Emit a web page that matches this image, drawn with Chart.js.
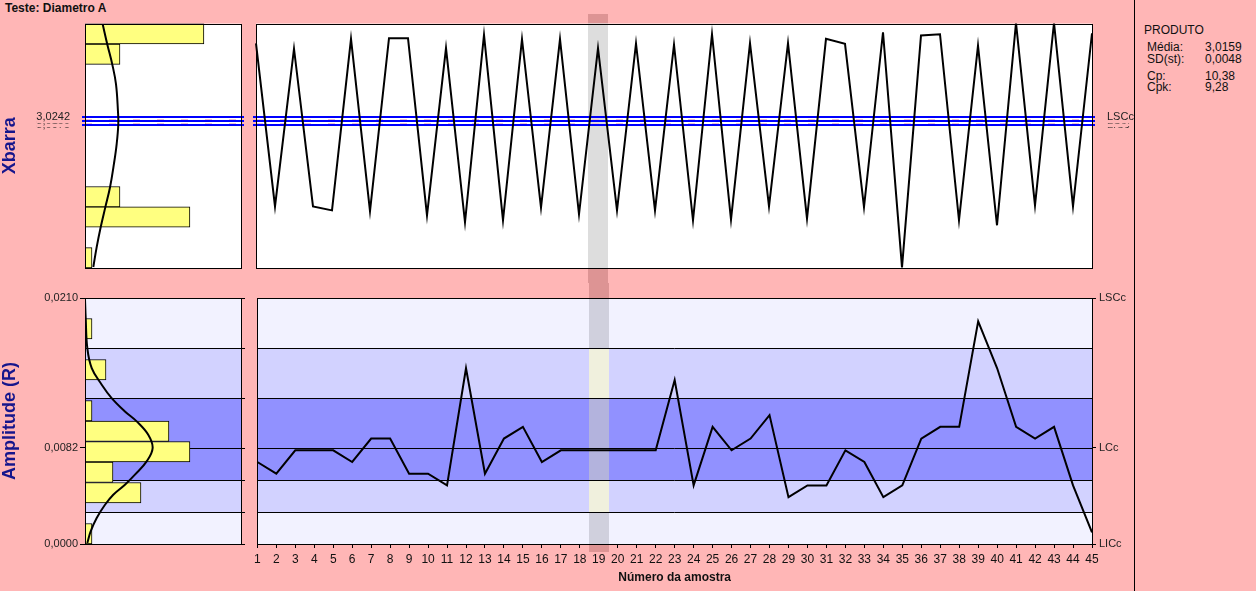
<!DOCTYPE html>
<html lang="pt">
<head>
<meta charset="utf-8">
<title>Teste: Diametro A</title>
<script src="https://cdn.jsdelivr.net/npm/chart.js@4.4.1/dist/chart.umd.min.js"></script>
<style>
  html, body { margin: 0; padding: 0; }
  body { width: 1256px; height: 591px; background: #ffb6b6; position: relative; overflow: hidden;
         font-family: "Liberation Sans", Arial, sans-serif; color: #111; }
  canvas { position: absolute; }
  .lbl { position: absolute; font-size: 12px; line-height: 14px; white-space: nowrap; }
  #divider { position: absolute; left: 1134px; top: 0; width: 1px; height: 591px; background: #000; }
</style>
</head>
<body>
<div class="lbl" style="left:5px;top:1px;font-weight:bold">Teste: Diametro A</div>
<div id="divider"></div>
<div id="stats"></div>
<canvas id="xbarHist" width="250" height="273" style="left:0;top:10px"></canvas>
<canvas id="xbarChart" width="884" height="273" style="left:250px;top:10px"></canvas>
<canvas id="rangeHist" width="250" height="308" style="left:0;top:283px"></canvas>
<canvas id="rangeChart" width="884" height="308" style="left:250px;top:283px"></canvas>
<script>
var sampleLabels = ["1", "2", "3", "4", "5", "6", "7", "8", "9", "10", "11", "12", "13", "14", "15",
    "16", "17", "18", "19", "20", "21", "22", "23", "24", "25", "26", "27", "28", "29", "30",
    "31", "32", "33", "34", "35", "36", "37", "38", "39", "40", "41", "42", "43", "44", "45"];

// sample means (Xbarra)
var xbarValues = [3.1802, 2.8334, 3.1690, 2.8336, 2.8251, 3.1902, 2.8236, 3.1914, 3.1914, 2.8145,
    3.1703, 2.7997, 3.1986, 2.8040, 3.1893, 2.8308, 3.1893, 2.8167, 3.1703, 2.8251,
    3.1802, 2.8251, 3.1775, 2.8040, 3.1999, 2.8055, 3.1809, 2.8336, 3.1809, 2.8076,
    3.1902, 3.1796, 2.8321, 3.2041, 2.7040, 3.1971, 3.1999, 2.8040, 3.1754, 2.7934,
    3.2240, 2.8357, 3.2240, 2.8336, 3.2020];

// sample ranges (Amplitude R)
var rangeValues = [0.0070, 0.0060, 0.0080, 0.0080, 0.0080, 0.0070, 0.0090, 0.0090, 0.0060, 0.0060,
    0.0050, 0.0150, 0.0060, 0.0090, 0.0100, 0.0070, 0.0080, 0.0080, 0.0080, 0.0080,
    0.0080, 0.0080, 0.0140, 0.0050, 0.0100, 0.0080, 0.0090, 0.0110, 0.0040, 0.0050,
    0.0050, 0.0080, 0.0070, 0.0040, 0.0050, 0.0090, 0.0100, 0.0100, 0.0190, 0.0150,
    0.0100, 0.0090, 0.0100, 0.0050, 0.0010];

// control limits, lowest first
var limitNames = ["LICc", "LCc", "LSCc"];
var xbarLimits = [3.0075, 3.0159, 3.0242];
var rangeLimits = [0.0000, 0.0082, 0.0210];

var xbarAxisRange = [2.7025, 3.2225];
var rangeAxisRange = [0.0000, 0.0210];

// histograms, 12 bins, lowest bin first
var histCountMax = 22.3;
var xbarHistCounts = [1, 0, 15, 5, 0, 0, 0, 0, 0, 0, 5, 17];
var rangeHistCounts = [1, 0, 8, 4, 15, 12, 1, 0, 3, 0, 1, 0];

// fitted curves
var xbarCurveValues = [3.2210, 3.1781, 3.1358, 3.0936, 3.0365, 3.0090, 2.9667, 2.9245, 2.8737, 2.8315, 2.7892, 2.7469, 2.7046];
var xbarCurveHeights = [2.53, 3.19, 3.90, 4.43, 4.71, 4.76, 4.53, 4.14, 3.57, 2.90, 2.24, 1.67, 1.19];
var rangeCurveValues = [0.02087, 0.01929, 0.01673, 0.01502, 0.01360, 0.01246, 0.01132, 0.01047, 0.00933,
    0.00820, 0.00705, 0.00592, 0.00506, 0.00421, 0.00335, 0.00222, 0.00108, 0.00009];
var rangeCurveHeights = [0.00, 0.10, 0.33, 0.96, 2.39, 3.81, 5.71, 7.39, 9.04,
    9.67, 8.81, 7.14, 5.71, 4.04, 2.86, 1.67, 0.81, 0.33];

var selectedSample = "19";

var statTitle = "PRODUTO";
var statNames = ["Média:", "SD(st):", "Cp:", "Cpk:"];
var statValues = ["3,0159", "0,0048", "10,38", "9,28"];

var PINK = "#ffb6b6";
var ZONE_COLORS = ["#f2f2ff", "#d2d2ff", "#9191ff"];
var ZONE_SHADES = [0, 1, 2, 2, 1, 0];
var NAVY = "#16168c";

Chart.defaults.font.family = '"Liberation Sans", Arial, sans-serif';
Chart.defaults.color = "#111";

// the selected sample column is painted by xor-ing with #222222
function xorColor(hex) {
    var n = parseInt(hex.slice(1), 16) ^ 0x222222;
    return "#" + ("000000" + n.toString(16)).slice(-6);
}

function ptNumber(v) {
    return v.toFixed(4).replace(".", ",");
}

// zone edges: LIC, -2s, -1s, LC, +1s, +2s, LSC
function zoneEdges(limits) {
    var dn = (limits[1] - limits[0]) / 3;
    var up = (limits[2] - limits[1]) / 3;
    return [limits[0], limits[1] - 2 * dn, limits[1] - dn, limits[1], limits[1] + up, limits[1] + 2 * up, limits[2]];
}

var spcDecor = {
    id: "spcDecor",
    beforeDatasetsDraw: function (chart, args, opts) {
        var ctx = chart.ctx;
        var area = chart.chartArea;
        var y = chart.scales.y;
        var col = null;
        if (opts.highlight) {
            var cx = chart.scales.x.getPixelForValue(chart.data.labels.indexOf(opts.highlight));
            col = { left: Math.round(cx) - 10, width: 20 };
        }
        ctx.save();
        if (col) {
            ctx.fillStyle = xorColor(PINK);
            ctx.fillRect(col.left, opts.highlightTop, col.width, opts.highlightBottom - opts.highlightTop);
        }
        if (opts.zones) {
            var edges = zoneEdges(opts.zones);
            for (var i = 0; i < 6; i++) {
                var top = Math.round(y.getPixelForValue(edges[i + 1]));
                var bottom = Math.round(y.getPixelForValue(edges[i]));
                ctx.fillStyle = ZONE_COLORS[ZONE_SHADES[i]];
                ctx.fillRect(area.left, top, area.width, bottom - top);
                if (col) {
                    ctx.fillStyle = xorColor(ZONE_COLORS[ZONE_SHADES[i]]);
                    ctx.fillRect(col.left, top, col.width, bottom - top);
                }
            }
            ctx.strokeStyle = "#000";
            ctx.lineWidth = 1;
            edges.forEach(function (v) {
                var py = Math.round(y.getPixelForValue(v)) + 0.5;
                ctx.beginPath();
                ctx.moveTo(area.left, py);
                ctx.lineTo(area.right + (opts.lineOverhang || 0), py);
                ctx.stroke();
            });
        } else {
            ctx.fillStyle = "#fff";
            ctx.fillRect(area.left, area.top, area.width, area.height);
            if (col) {
                ctx.fillStyle = xorColor("#ffffff");
                ctx.fillRect(col.left, area.top, col.width, area.height);
            }
        }
        if (opts.limits) {
            var rows = opts.limits.map(function (v) { return Math.round(y.getPixelForValue(v)); });
            ctx.fillStyle = "#0000ff";
            rows.forEach(function (py) {
                ctx.fillRect(area.left - 3, py - 1, area.width + 6, 2);
            });
            // light dashes between the limit lines
            ctx.strokeStyle = "#f0c4cc";
            ctx.lineWidth = 1;
            ctx.setLineDash([7, 17]);
            for (var k = 0; k < rows.length - 1; k++) {
                var my = Math.round((rows[k] + rows[k + 1]) / 2) + 0.5;
                ctx.beginPath();
                ctx.moveTo(area.left, my);
                ctx.lineTo(area.right, my);
                ctx.stroke();
            }
        }
        ctx.restore();
    },
    afterDatasetsDraw: function (chart) {
        var ctx = chart.ctx;
        var area = chart.chartArea;
        ctx.save();
        ctx.strokeStyle = "#000";
        ctx.lineWidth = 1;
        ctx.strokeRect(Math.round(area.left) + 0.5, Math.round(area.top) + 0.5,
            Math.round(area.width), Math.round(area.height));
        ctx.restore();
    }
};

function limitTicks(limits) {
    return function (axis) {
        axis.ticks = limits.map(function (v) { return { value: v }; });
    };
}

function CreateHistogram(id, counts, axisRange, curveValues, curveHeights, limits, title, zones) {
    var chart = document.getElementById(id).getContext("2d");
    var binWidth = (axisRange[1] - axisRange[0]) / counts.length;
    var bars = counts.map(function (c, i) { return { x: c, y: axisRange[0] + (i + 0.5) * binWidth }; });
    var curve = curveValues.map(function (v, i) { return { x: curveHeights[i], y: v }; });

    var myHistogram = new Chart(chart, {
        type: 'bar',
        data: {
            datasets: [{
                type: 'line',
                label: 'Normal',
                data: curve,
                indexAxis: 'y',
                borderColor: '#000',
                borderWidth: 2,
                pointRadius: 0,
                tension: 0.4,
                order: 0
            }, {
                type: 'bar',
                label: 'Frequência',
                data: bars,
                backgroundColor: '#ffff80',
                borderColor: '#000',
                borderWidth: 1,
                borderSkipped: false,
                barThickness: 'flex',
                barPercentage: 1,
                categoryPercentage: 1,
                order: 1
            }]
        },
        options: {
            indexAxis: 'y',
            responsive: false,
            animation: false,
            events: [],
            layout: { padding: { left: 0, right: 9, top: zones ? 15 : 12, bottom: zones ? 47 : 15 } },
            plugins: {
                legend: { display: false },
                tooltip: { enabled: false },
                spcDecor: zones ? { zones: limits, lineOverhang: 4 } : { limits: limits }
            },
            scales: {
                x: { type: 'linear', min: 0, max: histCountMax, display: false },
                y: {
                    type: 'linear',
                    min: axisRange[0],
                    max: axisRange[1],
                    offset: false,
                    afterBuildTicks: limitTicks(limits),
                    afterFit: function (axis) { axis.width = 85; },
                    border: { display: false },
                    grid: zones ? { offset: false, drawOnChartArea: false, tickLength: 5, color: '#000' } : { offset: false, display: false },
                    ticks: {
                        padding: zones ? 2 : 7,
                        font: { size: 11 },
                        color: '#222',
                        showLabelBackdrop: !zones,
                        backdropColor: PINK,
                        backdropPadding: 0,
                        callback: function (value) { return ptNumber(value); }
                    },
                    title: {
                        display: true,
                        text: title,
                        color: NAVY,
                        font: { size: 18, weight: 'bold', lineHeight: 1.1 },
                        padding: { top: 0, bottom: 0 }
                    }
                }
            }
        },
        plugins: [spcDecor]
    });
}

function CreateXbarChart(id) {
    var chart = document.getElementById(id).getContext("2d");

    var myLineChart = new Chart(chart, {
        type: 'line',
        data: {
            labels: sampleLabels,
            datasets: [{
                label: 'Xbarra',
                data: xbarValues,
                borderColor: '#000',
                borderWidth: 2,
                pointRadius: 0,
                tension: 0
            }]
        },
        options: {
            responsive: false,
            animation: false,
            events: [],
            layout: { padding: { left: 6, right: 0, top: 12, bottom: 15 } },
            plugins: {
                legend: { display: false },
                tooltip: { enabled: false },
                spcDecor: { limits: xbarLimits, highlight: selectedSample, highlightTop: 4, highlightBottom: 273 }
            },
            scales: {
                x: { type: 'category', offset: false, display: false },
                y: { type: 'linear', min: xbarAxisRange[0], max: xbarAxisRange[1], display: false },
                y2: {
                    type: 'linear',
                    position: 'right',
                    min: xbarAxisRange[0],
                    max: xbarAxisRange[1],
                    afterBuildTicks: limitTicks(xbarLimits),
                    afterFit: function (axis) { axis.width = 42; },
                    border: { display: false },
                    grid: { display: false },
                    ticks: {
                        padding: 7,
                        font: { size: 11 },
                        color: '#222',
                        showLabelBackdrop: true,
                        backdropColor: PINK,
                        backdropPadding: 0,
                        callback: function (value, index) { return limitNames[index]; }
                    }
                }
            }
        },
        plugins: [spcDecor]
    });
}

function CreateRangeChart(id) {
    var chart = document.getElementById(id).getContext("2d");

    var myLineChart = new Chart(chart, {
        type: 'line',
        data: {
            labels: sampleLabels,
            datasets: [{
                label: 'Amplitude (R)',
                data: rangeValues,
                borderColor: '#000',
                borderWidth: 2,
                pointRadius: 0,
                tension: 0
            }]
        },
        options: {
            responsive: false,
            animation: false,
            events: [],
            layout: { padding: { left: 6, right: 0, top: 15, bottom: 0 } },
            plugins: {
                legend: { display: false },
                tooltip: { enabled: false },
                spcDecor: { zones: rangeLimits, highlight: selectedSample, highlightTop: 0, highlightBottom: 269 }
            },
            scales: {
                x: {
                    type: 'category',
                    offset: false,
                    afterFit: function (axis) { axis.height = 47; },
                    border: { display: false },
                    grid: { drawOnChartArea: false, tickLength: 4, color: '#000' },
                    ticks: { autoSkip: false, maxRotation: 0, padding: 4, font: { size: 12 }, color: '#111' },
                    title: {
                        display: true,
                        text: 'Número da amostra',
                        color: '#111',
                        font: { size: 12, weight: 'bold' },
                        padding: { top: 0, bottom: 6 }
                    }
                },
                y: { type: 'linear', min: rangeAxisRange[0], max: rangeAxisRange[1], display: false },
                y2: {
                    type: 'linear',
                    position: 'right',
                    min: rangeAxisRange[0],
                    max: rangeAxisRange[1],
                    afterBuildTicks: limitTicks(rangeLimits),
                    afterFit: function (axis) { axis.width = 42; },
                    border: { display: false },
                    grid: { drawOnChartArea: false, tickLength: 4, color: '#000' },
                    ticks: {
                        padding: 3,
                        font: { size: 11 },
                        color: '#222',
                        callback: function (value, index) { return limitNames[index]; }
                    }
                }
            }
        },
        plugins: [spcDecor]
    });
}

function WriteStats() {
    var box = document.getElementById("stats");
    var rowTops = [40, 52, 69, 80];
    var html = '<div class="lbl" style="left:1144px;top:23px">' + statTitle + '</div>';
    for (var i = 0; i < statNames.length; i++) {
        html += '<div class="lbl" style="left:1147px;top:' + rowTops[i] + 'px">' + statNames[i] + '</div>';
        html += '<div class="lbl" style="left:1205px;top:' + rowTops[i] + 'px">' + statValues[i] + '</div>';
    }
    box.innerHTML = html;
}

WriteStats();
CreateHistogram("xbarHist", xbarHistCounts, xbarAxisRange, xbarCurveValues, xbarCurveHeights, xbarLimits, "Xbarra", false);
CreateXbarChart("xbarChart");
CreateHistogram("rangeHist", rangeHistCounts, rangeAxisRange, rangeCurveValues, rangeCurveHeights, rangeLimits, "Amplitude (R)", true);
CreateRangeChart("rangeChart");
</script>
</body>
</html>
